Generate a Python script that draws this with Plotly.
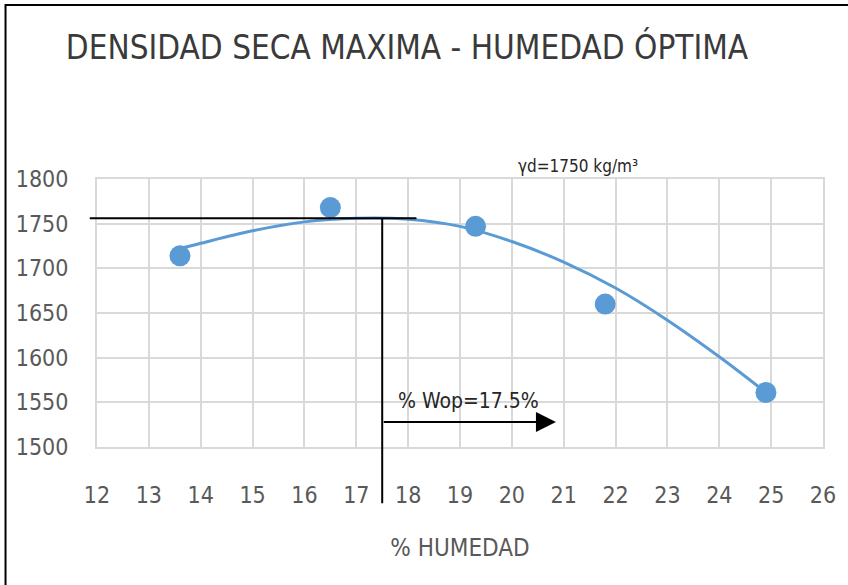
import plotly.graph_objects as go

AZUL = "#5B9BD5"
GRIS_TEXTO = "#595959"
GRIS_GRILLA = "#D9D9D9"
FUENTE = "DejaVu Sans Condensed, Roboto, sans-serif"

# puntos del ensayo
humedad = [13.6, 16.5, 19.3, 21.8, 24.9]
densidad = [1714, 1768, 1747, 1660, 1561]

# curva de ajuste
curva_x = [13.6, 14, 15, 16, 17, 18, 19, 20, 21, 22, 23, 24, 24.9]
curva_y = [1722, 1728, 1742, 1752, 1756, 1755, 1747, 1730, 1707, 1678, 1642, 1601, 1561]

x_ticks = list(range(12, 27))
y_ticks = [1500, 1550, 1600, 1650, 1700, 1750, 1800]

densidad_max = 1756
humedad_opt = 17.5

fig = go.Figure()
fig.add_trace(go.Scatter(
    x=curva_x, y=curva_y, mode="lines",
    line=dict(color=AZUL, width=3, shape="spline"),
    hoverinfo="skip", showlegend=False
))
fig.add_trace(go.Scatter(
    x=humedad, y=densidad, mode="markers",
    marker=dict(color=AZUL, size=21),
    showlegend=False
))

# linea horizontal de densidad maxima y vertical de humedad optima
fig.add_shape(type="line", xref="paper", yref="y",
              x0=-0.01, x1=(18.16 - 12) / 14, y0=densidad_max, y1=densidad_max,
              line=dict(color="black", width=2))
fig.add_shape(type="line", xref="x", yref="paper",
              x0=humedad_opt, x1=humedad_opt,
              y0=(densidad_max - 1500) / 300, y1=-0.21,
              line=dict(color="black", width=2))

# marco de la imagen
fig.add_shape(type="path", xref="paper", yref="paper",
              path="M -0.126,-0.6 L -0.126,1.649 L 1.2,1.649",
              line=dict(color="black", width=2))

fig.add_annotation(x=20.85, y=1528, ax=humedad_opt, ay=1528,
                   xref="x", yref="y", axref="x", ayref="y",
                   text="", showarrow=True, arrowhead=2, arrowsize=2,
                   arrowwidth=2, arrowcolor="black")
fig.add_annotation(x=19.16, y=1552, text="% Wop=17.5%", showarrow=False,
                   font=dict(family=FUENTE, size=21, color="#262626"))
fig.add_annotation(x=21.27, y=(1815 - 1500) / 300, yref="paper", yanchor="middle",
                   text="γd=1750 kg/m³", showarrow=False,
                   font=dict(family=FUENTE, size=17, color="#262626"))

fig.update_layout(
    width=848, height=585,
    margin=dict(l=97, r=21, t=179, b=138),
    paper_bgcolor="white", plot_bgcolor="white",
    title=dict(text="DENSIDAD SECA MAXIMA - HUMEDAD ÓPTIMA",
               x=407 / 848, xanchor="center", y=1 - 47 / 585, yanchor="middle",
               font=dict(family=FUENTE, size=33, color="#3a3a3a")),
    font=dict(family=FUENTE, color=GRIS_TEXTO),
)
fig.update_xaxes(
    range=[12, 26], tickvals=x_ticks, showgrid=True, gridcolor=GRIS_GRILLA,
    gridwidth=2, showline=True, linecolor=GRIS_GRILLA, linewidth=2, mirror=True,
    zeroline=False, tickfont=dict(size=23, color=GRIS_TEXTO),
    ticklabelstandoff=26,
    title=dict(text="% HUMEDAD", font=dict(size=24, color=GRIS_TEXTO), standoff=33)
)
fig.update_yaxes(
    range=[1500, 1800], tickvals=y_ticks, showgrid=True, gridcolor=GRIS_GRILLA,
    gridwidth=2, showline=True, linecolor=GRIS_GRILLA, linewidth=2, mirror=True,
    zeroline=False, tickfont=dict(size=23, color=GRIS_TEXTO),
    ticklabelstandoff=22
)

# sin margen del body para que la figura quede en 0,0
fig.write_html("out.html", config={"displayModeBar": False},
               post_script="document.body.style.margin='0';")
